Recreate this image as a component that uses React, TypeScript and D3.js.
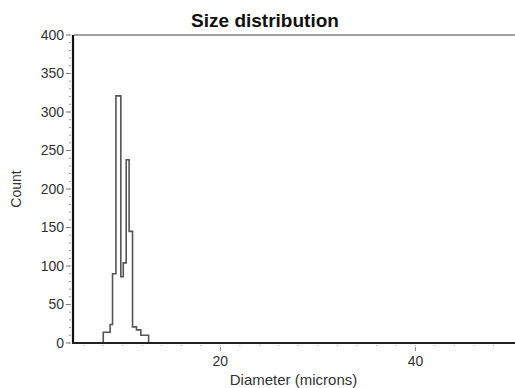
import React, { useEffect, useRef } from 'react';
import * as d3 from 'd3';

// histogram bins (diameter in microns)
const binEdges = [8.0, 8.7, 8.95, 9.3, 9.8, 10.05, 10.35, 10.65, 11.0, 11.4, 11.85, 12.65];
const counts = [14, 24, 90, 321, 86, 104, 238, 145, 21, 17, 10];

const xTicks = [20, 40];
const yTicks = [0, 50, 100, 150, 200, 250, 300, 350, 400];

const width = 515;
const height = 388;
const margin = { top: 35, right: 2, bottom: 45, left: 74 };

const App = () => {
  const ref = useRef<SVGSVGElement>(null);

  useEffect(() => {
    const svg = d3.select(ref.current);
    svg.selectAll('*').remove();

    const x = d3.scaleLinear().domain([5, 50]).range([margin.left, width - margin.right]);
    const y = d3.scaleLinear().domain([0, 400]).range([height - margin.bottom, margin.top]);

    const font = 'Liberation Sans, Arial, sans-serif';

    // title
    svg.append('text')
      .attr('x', 265)
      .attr('y', 27)
      .attr('text-anchor', 'middle')
      .attr('font-family', font)
      .attr('font-weight', 'bold')
      .attr('font-size', 19)
      .attr('fill', '#111')
      .text('Size distribution');

    // histogram outline
    const pts: [number, number][] = [[binEdges[0], 0]];
    counts.forEach((c, i) => pts.push([binEdges[i], c]));
    pts.push([binEdges[binEdges.length - 1], 0]);
    const line = d3.line<[number, number]>()
      .x(d => x(d[0]))
      .y(d => y(d[1]))
      .curve(d3.curveStepAfter);
    svg.append('path')
      .attr('d', line(pts))
      .attr('fill', 'none')
      .attr('stroke', '#555')
      .attr('stroke-width', 1.6);

    // frame: top line, left and bottom axis lines
    svg.append('line')
      .attr('x1', x(5)).attr('x2', width)
      .attr('y1', y(400)).attr('y2', y(400))
      .attr('stroke', '#444').attr('stroke-width', 1.2);
    svg.append('line')
      .attr('x1', x(5) - 1).attr('x2', x(5) - 1)
      .attr('y1', y(400)).attr('y2', y(0) + 1)
      .attr('stroke', '#111').attr('stroke-width', 2.2);
    svg.append('line')
      .attr('x1', x(5) - 2).attr('x2', width)
      .attr('y1', y(0)).attr('y2', y(0))
      .attr('stroke', '#222').attr('stroke-width', 2.2);

    // y ticks
    const yAxis = svg.append('g').attr('font-family', font).attr('font-size', 14).attr('fill', '#333');
    yAxis.selectAll('line.minor')
      .data(d3.range(0, 401, 10))
      .join('line')
      .attr('class', 'minor')
      .attr('x1', x(5) - 5).attr('x2', x(5) - 3)
      .attr('y1', d => y(d)).attr('y2', d => y(d))
      .attr('stroke', '#999').attr('stroke-width', 1);
    yAxis.selectAll('line.major')
      .data(yTicks)
      .join('line')
      .attr('class', 'major')
      .attr('x1', x(5) - 8).attr('x2', x(5) - 4)
      .attr('y1', d => y(d)).attr('y2', d => y(d))
      .attr('stroke', '#777').attr('stroke-width', 1);
    yAxis.selectAll('text')
      .data(yTicks)
      .join('text')
      .attr('x', x(5) - 10)
      .attr('y', d => y(d))
      .attr('dy', '0.35em')
      .attr('text-anchor', 'end')
      .text(d => d);

    // x ticks
    const xAxis = svg.append('g').attr('font-family', font).attr('font-size', 14).attr('fill', '#333');
    xAxis.selectAll('line.minor')
      .data(d3.range(6, 50, 2))
      .join('line')
      .attr('class', 'minor')
      .attr('x1', d => x(d)).attr('x2', d => x(d))
      .attr('y1', y(0) + 2).attr('y2', y(0) + 3)
      .attr('stroke', '#aaa').attr('stroke-width', 1);
    xAxis.selectAll('line.major')
      .data(xTicks)
      .join('line')
      .attr('class', 'major')
      .attr('x1', d => x(d)).attr('x2', d => x(d))
      .attr('y1', y(0) + 4).attr('y2', y(0) + 8)
      .attr('stroke', '#888').attr('stroke-width', 1);
    xAxis.selectAll('text')
      .data(xTicks)
      .join('text')
      .attr('x', d => x(d))
      .attr('y', y(0) + 23)
      .attr('text-anchor', 'middle')
      .text(d => d);

    // axis titles
    svg.append('text')
      .attr('x', (x(5) + x(50)) / 2)
      .attr('y', 385)
      .attr('text-anchor', 'middle')
      .attr('font-family', font)
      .attr('font-size', 15)
      .attr('fill', '#333')
      .text('Diameter (microns)');
    svg.append('text')
      .attr('transform', `translate(21, ${y(200)}) rotate(-90)`)
      .attr('text-anchor', 'middle')
      .attr('font-family', font)
      .attr('font-size', 14)
      .attr('fill', '#333')
      .text('Count');
  }, []);

  return (
    <svg
      ref={ref}
      width={width}
      height={height}
      style={{ position: 'absolute', left: 0, top: 0, background: '#fff' }}
    />
  );
};

export default App;
